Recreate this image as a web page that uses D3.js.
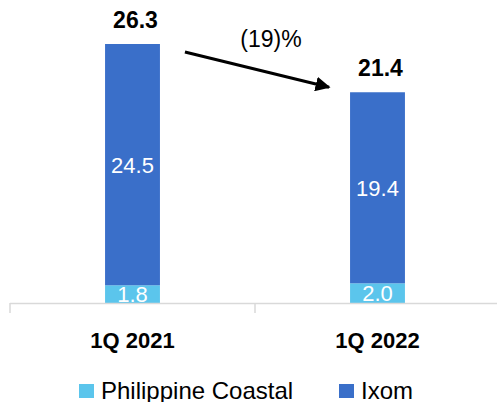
<!DOCTYPE html>
<html>
<head>
<meta charset="utf-8">
<script src="https://cdn.jsdelivr.net/npm/d3@7"></script>
<style>
  body { margin: 0; background: #fff; }
  svg text { font-family: 'Liberation Sans', Arial, sans-serif; }
</style>
</head>
<body>
<svg class="chart" width="497" height="402"></svg>
<script>
const categories = ['1Q 2021', '1Q 2022']
const coastal = [1.8, 2.0]
const ixom = [24.5, 19.4]
const totals = [26.3, 21.4]
const changeLabel = '(19)%'
const seriesNames = ['Philippine Coastal', 'Ixom']

const colors = { coastal: '#5BC5EC', ixom: '#3A6FC9' }

const svg = d3.select('svg.chart')
const baseY = 303

const x = d3.scaleBand()
  .domain(categories)
  .range([10, 500])
  .paddingInner(0.776)
  .paddingOuter(0.388)

const y = d3.scaleLinear()
  .domain([0, 26.3])
  .range([baseY, 44])

const rows = categories.map((c, i) => ({ cat: c, coastal: coastal[i], ixom: ixom[i], total: totals[i] }))
const stacked = d3.stack().keys(['coastal', 'ixom'])(rows)

// bars
svg.append('g').selectAll('g')
  .data(stacked)
  .join('g')
  .attr('fill', d => colors[d.key])
  .selectAll('rect')
  .data(d => d)
  .join('rect')
  .attr('x', d => x(d.data.cat))
  .attr('width', x.bandwidth())
  .attr('y', d => y(d[1]))
  .attr('height', d => y(d[0]) - y(d[1]))

// inner labels
svg.append('g').selectAll('g')
  .data(stacked)
  .join('g')
  .selectAll('text')
  .data(d => d.map(v => ({ v, key: d.key })))
  .join('text')
  .attr('x', d => x(d.v.data.cat) + x.bandwidth() / 2)
  .attr('y', d => (y(d.v[0]) + y(d.v[1])) / 2 + 8)
  .attr('text-anchor', 'middle')
  .attr('fill', '#fff')
  .attr('font-size', 22)
  .text(d => d.v.data[d.key].toFixed(1))

// totals
svg.append('g').selectAll('text')
  .data(rows)
  .join('text')
  .attr('x', d => x(d.cat) + x.bandwidth() / 2 + 3)
  .attr('y', d => y(d.total) - 16)
  .attr('text-anchor', 'middle')
  .attr('font-weight', 'bold')
  .attr('font-size', 23)
  .text(d => d.total.toFixed(1))

// axis
const axis = svg.append('g')
axis.append('line')
  .attr('x1', 10).attr('x2', 500)
  .attr('y1', baseY + 0.5).attr('y2', baseY + 0.5)
  .attr('stroke', '#D9D9D9').attr('stroke-width', 1.5)
const tickXs = [x.range()[0], ...categories.slice(1).map(c => x(c) - x.step() * x.paddingInner() / 2), x.range()[1] - 1]
axis.selectAll('line.tick')
  .data(tickXs)
  .join('line')
  .attr('class', 'tick')
  .attr('x1', d => d).attr('x2', d => d)
  .attr('y1', baseY).attr('y2', baseY + 10)
  .attr('stroke', '#D9D9D9').attr('stroke-width', 1.5)
axis.selectAll('text')
  .data(categories)
  .join('text')
  .attr('x', d => x(d) + x.bandwidth() / 2)
  .attr('y', 348)
  .attr('text-anchor', 'middle')
  .attr('font-weight', 'bold')
  .attr('font-size', 22)
  .text(d => d)

// change arrow
svg.append('defs').append('marker')
  .attr('id', 'head')
  .attr('viewBox', '0 0 10 10')
  .attr('refX', 9).attr('refY', 5)
  .attr('markerWidth', 5).attr('markerHeight', 5)
  .attr('orient', 'auto')
  .append('path')
  .attr('d', 'M0,0 L10,5 L0,10 Z')
  .attr('fill', '#000')

const x0 = x(categories[0]) + x.bandwidth() + 25
const x1 = x(categories[1]) - 21
svg.append('line')
  .attr('x1', x0).attr('y1', y(totals[0]) + 8)
  .attr('x2', x1).attr('y2', y(totals[1]) - 5)
  .attr('stroke', '#000').attr('stroke-width', 3)
  .attr('marker-end', 'url(#head)')

svg.append('text')
  .attr('x', 271)
  .attr('y', 47)
  .attr('text-anchor', 'middle')
  .attr('font-size', 23)
  .text(changeLabel)

// legend
const legend = svg.append('g')
const legendItems = [
  { name: seriesNames[0], color: colors.coastal, x: 79 },
  { name: seriesNames[1], color: colors.ixom, x: 339 }
]
const li = legend.selectAll('g').data(legendItems).join('g')
  .attr('transform', d => `translate(${d.x}, 384)`)
li.append('rect').attr('width', 15).attr('height', 14).attr('fill', d => d.color)
li.append('text')
  .attr('x', 22).attr('y', 15)
  .attr('font-size', 24)
  .text(d => d.name)
</script>
</body>
</html>
